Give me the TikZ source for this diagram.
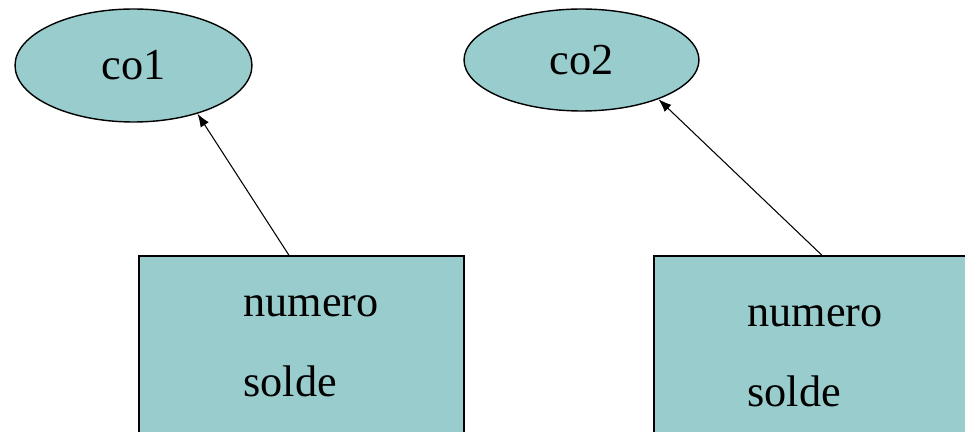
\documentclass[tikz,border=0pt]{standalone}
\usepackage{fontspec}
\setmainfont{Liberation Serif}
\usepackage{xcolor}
\usepackage{tikz}
\usetikzlibrary{shapes.geometric,arrows.meta}

\definecolor{objfill}{RGB}{153,204,204}

\begin{document}
\begin{tikzpicture}[x=0.02cm, y=-0.02cm]
        \tikzstyle{every node} = [font=\fontsize{25.2}{30}\selectfont]
        \tikzstyle{obj} = [ellipse, draw, line width=0.8pt, fill=objfill, inner sep=0pt]
        \tikzstyle{cls} = [rectangle, draw, line width=0.8pt, fill=objfill, inner sep=0pt,
                           minimum width=6.5cm, minimum height=4.08cm]
        \tikzstyle{attr} = [anchor=base west, inner sep=0pt]
        \tikzstyle{inst} = [-{Latex[length=7.5pt,width=5.5pt]}, line width=0.6pt]
        \useasboundingbox (0,0) rectangle (965,432);
        \clip (0,0) rectangle (965,432);
        % the two objects
        \node[obj, minimum width=4.74cm, minimum height=2.26cm] (co1) at (133.5,65.5) {\raisebox{-0.06cm}{co1}\hspace{0.2cm}};
        \node[obj, minimum width=4.70cm, minimum height=2.04cm] (co2) at (581.5,60) {co2\hspace{0.1cm}};
        % their classes
        \node[cls] (cl1) at (301.5,358) {};
        \node[cls] (cl2) at (816.5,358) {};
        \node[attr] (numero1) at (243,317) {numero};
        \node[attr] (solde1)  at (243,397) {solde};
        \node[attr] (numero2) at (747,327) {numero};
        \node[attr] (solde2)  at (747,407) {solde};
        \draw[inst] ([xshift=-0.25cm]cl1.north) -- (co1.-37);
        \draw[inst] ([xshift=0.11cm]cl2.north) -- (co2.-27);
    \end{tikzpicture}
\end{document}
